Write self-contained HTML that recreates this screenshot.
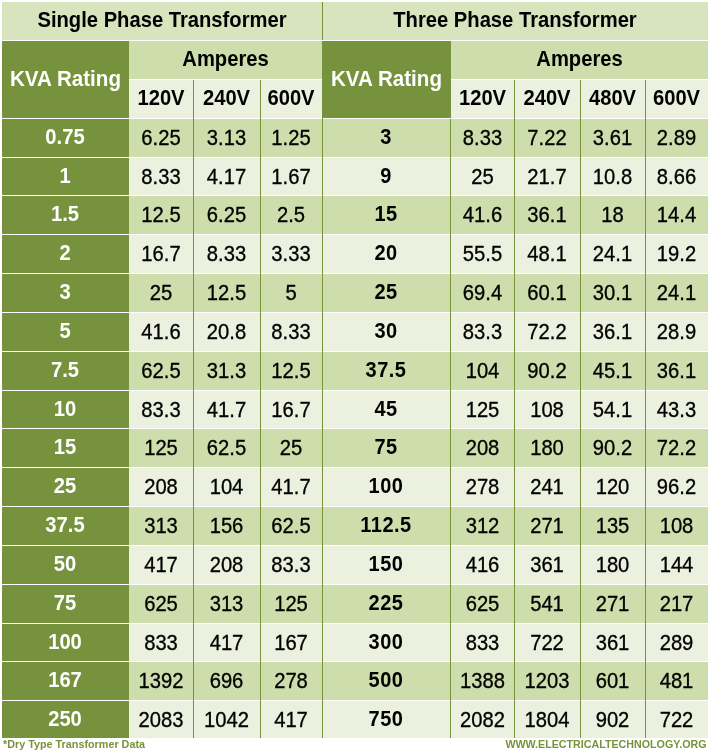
<!DOCTYPE html>
<html lang="en"><head><meta charset="utf-8"><title>Transformer KVA Rating Chart</title>
<style>
html,body{margin:0;padding:0;background:#fff}
body{width:710px;height:750px;position:relative;overflow:hidden;font-family:"Liberation Sans",Arial,sans-serif;color:#000}
.c{position:absolute;text-align:center;white-space:nowrap;font-size:20px;overflow:hidden}
.c span{display:inline-block;line-height:normal;vertical-align:middle;transform-origin:50% 79%}
.h{font-weight:bold;font-size:20.2px}
.h span{transform:translateY(-1.7px) scaleY(1.09)}
.d{font-size:20.2px;-webkit-text-stroke:0.3px #000}
.d span{transform:translateY(-1.6px) scaleY(1.08);transform-origin:50% 50%}
.w{color:#fff}
.k{font-weight:bold;font-size:20px}
.k span{transform:translateY(-2.3px) scaleY(1.1);transform-origin:50% 50%;letter-spacing:0.5px;margin-left:-1px}
.h.s span{transform:translateY(-0.7px) scaleY(1.09)}
.k.s span{transform:translateY(-1.3px) scaleY(1.1)}
.n span{margin-left:-1px}
.d.s span{transform:translateY(-0.6px) scaleY(1.08)}
.kv{font-size:20.6px}
.h.kv span{transform:translateY(-2.8px) scaleY(1.09)}
.v{position:absolute;width:1px;background:#77933c}
.f{position:absolute;font-weight:bold;font-size:10px;color:#77933c;white-space:nowrap;line-height:12px}
</style></head><body>
<div class="c h t" style="left:2px;top:2px;width:320px;height:38px;line-height:38px;background:#d7e4bd;"><span>Single Phase Transformer</span></div>
<div class="c h t" style="left:322px;top:2px;width:386px;height:38px;line-height:38px;background:#d7e4bd;"><span>Three Phase Transformer</span></div>
<div class="c h w kv" style="left:2px;top:41px;width:127px;height:77px;line-height:77px;background:#76923c;"><span>KVA Rating</span></div>
<div class="c h w kv" style="left:322px;top:41px;width:129px;height:77px;line-height:77px;background:#76923c;"><span>KVA Rating</span></div>
<div class="c h" style="left:129px;top:41px;width:193px;height:38px;line-height:38px;background:#cdddac;"><span>Amperes</span></div>
<div class="c h" style="left:451px;top:41px;width:257px;height:38px;line-height:38px;background:#cdddac;"><span>Amperes</span></div>
<div class="c h" style="left:129px;top:80px;width:64px;height:38px;line-height:38px;background:#ebf1de;"><span>120V</span></div>
<div class="c h" style="left:193px;top:80px;width:67px;height:38px;line-height:38px;background:#ebf1de;"><span>240V</span></div>
<div class="c h" style="left:260px;top:80px;width:62px;height:38px;line-height:38px;background:#ebf1de;"><span>600V</span></div>
<div class="c h" style="left:451px;top:80px;width:63px;height:38px;line-height:38px;background:#ebf1de;"><span>120V</span></div>
<div class="c h" style="left:514px;top:80px;width:66px;height:38px;line-height:38px;background:#ebf1de;"><span>240V</span></div>
<div class="c h" style="left:580px;top:80px;width:65px;height:38px;line-height:38px;background:#ebf1de;"><span>480V</span></div>
<div class="c h" style="left:645px;top:80px;width:63px;height:38px;line-height:38px;background:#ebf1de;"><span>600V</span></div>
<div class="c h w n" style="left:2px;top:119px;width:127px;height:38px;line-height:38px;background:#76923c;"><span>0.75</span></div>
<div class="c d" style="left:129px;top:119px;width:64px;height:38px;line-height:38px;background:#cdddac;"><span>6.25</span></div>
<div class="c d" style="left:193px;top:119px;width:67px;height:38px;line-height:38px;background:#cdddac;"><span>3.13</span></div>
<div class="c d" style="left:260px;top:119px;width:62px;height:38px;line-height:38px;background:#cdddac;"><span>1.25</span></div>
<div class="c k" style="left:322px;top:119px;width:129px;height:38px;line-height:38px;background:#cdddac;"><span>3</span></div>
<div class="c d" style="left:451px;top:119px;width:63px;height:38px;line-height:38px;background:#cdddac;"><span>8.33</span></div>
<div class="c d" style="left:514px;top:119px;width:66px;height:38px;line-height:38px;background:#cdddac;"><span>7.22</span></div>
<div class="c d" style="left:580px;top:119px;width:65px;height:38px;line-height:38px;background:#cdddac;"><span>3.61</span></div>
<div class="c d" style="left:645px;top:119px;width:63px;height:38px;line-height:38px;background:#cdddac;"><span>2.89</span></div>
<div class="c h w n s" style="left:2px;top:158px;width:127px;height:37px;line-height:37px;background:#76923c;"><span>1</span></div>
<div class="c d s" style="left:129px;top:158px;width:64px;height:37px;line-height:37px;background:#ebf1de;"><span>8.33</span></div>
<div class="c d s" style="left:193px;top:158px;width:67px;height:37px;line-height:37px;background:#ebf1de;"><span>4.17</span></div>
<div class="c d s" style="left:260px;top:158px;width:62px;height:37px;line-height:37px;background:#ebf1de;"><span>1.67</span></div>
<div class="c k s" style="left:322px;top:158px;width:129px;height:37px;line-height:37px;background:#ebf1de;"><span>9</span></div>
<div class="c d s" style="left:451px;top:158px;width:63px;height:37px;line-height:37px;background:#ebf1de;"><span>25</span></div>
<div class="c d s" style="left:514px;top:158px;width:66px;height:37px;line-height:37px;background:#ebf1de;"><span>21.7</span></div>
<div class="c d s" style="left:580px;top:158px;width:65px;height:37px;line-height:37px;background:#ebf1de;"><span>10.8</span></div>
<div class="c d s" style="left:645px;top:158px;width:63px;height:37px;line-height:37px;background:#ebf1de;"><span>8.66</span></div>
<div class="c h w n" style="left:2px;top:196px;width:127px;height:38px;line-height:38px;background:#76923c;"><span>1.5</span></div>
<div class="c d" style="left:129px;top:196px;width:64px;height:38px;line-height:38px;background:#cdddac;"><span>12.5</span></div>
<div class="c d" style="left:193px;top:196px;width:67px;height:38px;line-height:38px;background:#cdddac;"><span>6.25</span></div>
<div class="c d" style="left:260px;top:196px;width:62px;height:38px;line-height:38px;background:#cdddac;"><span>2.5</span></div>
<div class="c k" style="left:322px;top:196px;width:129px;height:38px;line-height:38px;background:#cdddac;"><span>15</span></div>
<div class="c d" style="left:451px;top:196px;width:63px;height:38px;line-height:38px;background:#cdddac;"><span>41.6</span></div>
<div class="c d" style="left:514px;top:196px;width:66px;height:38px;line-height:38px;background:#cdddac;"><span>36.1</span></div>
<div class="c d" style="left:580px;top:196px;width:65px;height:38px;line-height:38px;background:#cdddac;"><span>18</span></div>
<div class="c d" style="left:645px;top:196px;width:63px;height:38px;line-height:38px;background:#cdddac;"><span>14.4</span></div>
<div class="c h w n" style="left:2px;top:235px;width:127px;height:38px;line-height:38px;background:#76923c;"><span>2</span></div>
<div class="c d" style="left:129px;top:235px;width:64px;height:38px;line-height:38px;background:#ebf1de;"><span>16.7</span></div>
<div class="c d" style="left:193px;top:235px;width:67px;height:38px;line-height:38px;background:#ebf1de;"><span>8.33</span></div>
<div class="c d" style="left:260px;top:235px;width:62px;height:38px;line-height:38px;background:#ebf1de;"><span>3.33</span></div>
<div class="c k" style="left:322px;top:235px;width:129px;height:38px;line-height:38px;background:#ebf1de;"><span>20</span></div>
<div class="c d" style="left:451px;top:235px;width:63px;height:38px;line-height:38px;background:#ebf1de;"><span>55.5</span></div>
<div class="c d" style="left:514px;top:235px;width:66px;height:38px;line-height:38px;background:#ebf1de;"><span>48.1</span></div>
<div class="c d" style="left:580px;top:235px;width:65px;height:38px;line-height:38px;background:#ebf1de;"><span>24.1</span></div>
<div class="c d" style="left:645px;top:235px;width:63px;height:38px;line-height:38px;background:#ebf1de;"><span>19.2</span></div>
<div class="c h w n" style="left:2px;top:274px;width:127px;height:38px;line-height:38px;background:#76923c;"><span>3</span></div>
<div class="c d" style="left:129px;top:274px;width:64px;height:38px;line-height:38px;background:#cdddac;"><span>25</span></div>
<div class="c d" style="left:193px;top:274px;width:67px;height:38px;line-height:38px;background:#cdddac;"><span>12.5</span></div>
<div class="c d" style="left:260px;top:274px;width:62px;height:38px;line-height:38px;background:#cdddac;"><span>5</span></div>
<div class="c k" style="left:322px;top:274px;width:129px;height:38px;line-height:38px;background:#cdddac;"><span>25</span></div>
<div class="c d" style="left:451px;top:274px;width:63px;height:38px;line-height:38px;background:#cdddac;"><span>69.4</span></div>
<div class="c d" style="left:514px;top:274px;width:66px;height:38px;line-height:38px;background:#cdddac;"><span>60.1</span></div>
<div class="c d" style="left:580px;top:274px;width:65px;height:38px;line-height:38px;background:#cdddac;"><span>30.1</span></div>
<div class="c d" style="left:645px;top:274px;width:63px;height:38px;line-height:38px;background:#cdddac;"><span>24.1</span></div>
<div class="c h w n" style="left:2px;top:313px;width:127px;height:38px;line-height:38px;background:#76923c;"><span>5</span></div>
<div class="c d" style="left:129px;top:313px;width:64px;height:38px;line-height:38px;background:#ebf1de;"><span>41.6</span></div>
<div class="c d" style="left:193px;top:313px;width:67px;height:38px;line-height:38px;background:#ebf1de;"><span>20.8</span></div>
<div class="c d" style="left:260px;top:313px;width:62px;height:38px;line-height:38px;background:#ebf1de;"><span>8.33</span></div>
<div class="c k" style="left:322px;top:313px;width:129px;height:38px;line-height:38px;background:#ebf1de;"><span>30</span></div>
<div class="c d" style="left:451px;top:313px;width:63px;height:38px;line-height:38px;background:#ebf1de;"><span>83.3</span></div>
<div class="c d" style="left:514px;top:313px;width:66px;height:38px;line-height:38px;background:#ebf1de;"><span>72.2</span></div>
<div class="c d" style="left:580px;top:313px;width:65px;height:38px;line-height:38px;background:#ebf1de;"><span>36.1</span></div>
<div class="c d" style="left:645px;top:313px;width:63px;height:38px;line-height:38px;background:#ebf1de;"><span>28.9</span></div>
<div class="c h w n" style="left:2px;top:352px;width:127px;height:38px;line-height:38px;background:#76923c;"><span>7.5</span></div>
<div class="c d" style="left:129px;top:352px;width:64px;height:38px;line-height:38px;background:#cdddac;"><span>62.5</span></div>
<div class="c d" style="left:193px;top:352px;width:67px;height:38px;line-height:38px;background:#cdddac;"><span>31.3</span></div>
<div class="c d" style="left:260px;top:352px;width:62px;height:38px;line-height:38px;background:#cdddac;"><span>12.5</span></div>
<div class="c k" style="left:322px;top:352px;width:129px;height:38px;line-height:38px;background:#cdddac;"><span>37.5</span></div>
<div class="c d" style="left:451px;top:352px;width:63px;height:38px;line-height:38px;background:#cdddac;"><span>104</span></div>
<div class="c d" style="left:514px;top:352px;width:66px;height:38px;line-height:38px;background:#cdddac;"><span>90.2</span></div>
<div class="c d" style="left:580px;top:352px;width:65px;height:38px;line-height:38px;background:#cdddac;"><span>45.1</span></div>
<div class="c d" style="left:645px;top:352px;width:63px;height:38px;line-height:38px;background:#cdddac;"><span>36.1</span></div>
<div class="c h w n s" style="left:2px;top:391px;width:127px;height:37px;line-height:37px;background:#76923c;"><span>10</span></div>
<div class="c d s" style="left:129px;top:391px;width:64px;height:37px;line-height:37px;background:#ebf1de;"><span>83.3</span></div>
<div class="c d s" style="left:193px;top:391px;width:67px;height:37px;line-height:37px;background:#ebf1de;"><span>41.7</span></div>
<div class="c d s" style="left:260px;top:391px;width:62px;height:37px;line-height:37px;background:#ebf1de;"><span>16.7</span></div>
<div class="c k s" style="left:322px;top:391px;width:129px;height:37px;line-height:37px;background:#ebf1de;"><span>45</span></div>
<div class="c d s" style="left:451px;top:391px;width:63px;height:37px;line-height:37px;background:#ebf1de;"><span>125</span></div>
<div class="c d s" style="left:514px;top:391px;width:66px;height:37px;line-height:37px;background:#ebf1de;"><span>108</span></div>
<div class="c d s" style="left:580px;top:391px;width:65px;height:37px;line-height:37px;background:#ebf1de;"><span>54.1</span></div>
<div class="c d s" style="left:645px;top:391px;width:63px;height:37px;line-height:37px;background:#ebf1de;"><span>43.3</span></div>
<div class="c h w n" style="left:2px;top:429px;width:127px;height:38px;line-height:38px;background:#76923c;"><span>15</span></div>
<div class="c d" style="left:129px;top:429px;width:64px;height:38px;line-height:38px;background:#cdddac;"><span>125</span></div>
<div class="c d" style="left:193px;top:429px;width:67px;height:38px;line-height:38px;background:#cdddac;"><span>62.5</span></div>
<div class="c d" style="left:260px;top:429px;width:62px;height:38px;line-height:38px;background:#cdddac;"><span>25</span></div>
<div class="c k" style="left:322px;top:429px;width:129px;height:38px;line-height:38px;background:#cdddac;"><span>75</span></div>
<div class="c d" style="left:451px;top:429px;width:63px;height:38px;line-height:38px;background:#cdddac;"><span>208</span></div>
<div class="c d" style="left:514px;top:429px;width:66px;height:38px;line-height:38px;background:#cdddac;"><span>180</span></div>
<div class="c d" style="left:580px;top:429px;width:65px;height:38px;line-height:38px;background:#cdddac;"><span>90.2</span></div>
<div class="c d" style="left:645px;top:429px;width:63px;height:38px;line-height:38px;background:#cdddac;"><span>72.2</span></div>
<div class="c h w n" style="left:2px;top:468px;width:127px;height:38px;line-height:38px;background:#76923c;"><span>25</span></div>
<div class="c d" style="left:129px;top:468px;width:64px;height:38px;line-height:38px;background:#ebf1de;"><span>208</span></div>
<div class="c d" style="left:193px;top:468px;width:67px;height:38px;line-height:38px;background:#ebf1de;"><span>104</span></div>
<div class="c d" style="left:260px;top:468px;width:62px;height:38px;line-height:38px;background:#ebf1de;"><span>41.7</span></div>
<div class="c k" style="left:322px;top:468px;width:129px;height:38px;line-height:38px;background:#ebf1de;"><span>100</span></div>
<div class="c d" style="left:451px;top:468px;width:63px;height:38px;line-height:38px;background:#ebf1de;"><span>278</span></div>
<div class="c d" style="left:514px;top:468px;width:66px;height:38px;line-height:38px;background:#ebf1de;"><span>241</span></div>
<div class="c d" style="left:580px;top:468px;width:65px;height:38px;line-height:38px;background:#ebf1de;"><span>120</span></div>
<div class="c d" style="left:645px;top:468px;width:63px;height:38px;line-height:38px;background:#ebf1de;"><span>96.2</span></div>
<div class="c h w n" style="left:2px;top:507px;width:127px;height:38px;line-height:38px;background:#76923c;"><span>37.5</span></div>
<div class="c d" style="left:129px;top:507px;width:64px;height:38px;line-height:38px;background:#cdddac;"><span>313</span></div>
<div class="c d" style="left:193px;top:507px;width:67px;height:38px;line-height:38px;background:#cdddac;"><span>156</span></div>
<div class="c d" style="left:260px;top:507px;width:62px;height:38px;line-height:38px;background:#cdddac;"><span>62.5</span></div>
<div class="c k" style="left:322px;top:507px;width:129px;height:38px;line-height:38px;background:#cdddac;"><span>112.5</span></div>
<div class="c d" style="left:451px;top:507px;width:63px;height:38px;line-height:38px;background:#cdddac;"><span>312</span></div>
<div class="c d" style="left:514px;top:507px;width:66px;height:38px;line-height:38px;background:#cdddac;"><span>271</span></div>
<div class="c d" style="left:580px;top:507px;width:65px;height:38px;line-height:38px;background:#cdddac;"><span>135</span></div>
<div class="c d" style="left:645px;top:507px;width:63px;height:38px;line-height:38px;background:#cdddac;"><span>108</span></div>
<div class="c h w n" style="left:2px;top:546px;width:127px;height:38px;line-height:38px;background:#76923c;"><span>50</span></div>
<div class="c d" style="left:129px;top:546px;width:64px;height:38px;line-height:38px;background:#ebf1de;"><span>417</span></div>
<div class="c d" style="left:193px;top:546px;width:67px;height:38px;line-height:38px;background:#ebf1de;"><span>208</span></div>
<div class="c d" style="left:260px;top:546px;width:62px;height:38px;line-height:38px;background:#ebf1de;"><span>83.3</span></div>
<div class="c k" style="left:322px;top:546px;width:129px;height:38px;line-height:38px;background:#ebf1de;"><span>150</span></div>
<div class="c d" style="left:451px;top:546px;width:63px;height:38px;line-height:38px;background:#ebf1de;"><span>416</span></div>
<div class="c d" style="left:514px;top:546px;width:66px;height:38px;line-height:38px;background:#ebf1de;"><span>361</span></div>
<div class="c d" style="left:580px;top:546px;width:65px;height:38px;line-height:38px;background:#ebf1de;"><span>180</span></div>
<div class="c d" style="left:645px;top:546px;width:63px;height:38px;line-height:38px;background:#ebf1de;"><span>144</span></div>
<div class="c h w n" style="left:2px;top:585px;width:127px;height:38px;line-height:38px;background:#76923c;"><span>75</span></div>
<div class="c d" style="left:129px;top:585px;width:64px;height:38px;line-height:38px;background:#cdddac;"><span>625</span></div>
<div class="c d" style="left:193px;top:585px;width:67px;height:38px;line-height:38px;background:#cdddac;"><span>313</span></div>
<div class="c d" style="left:260px;top:585px;width:62px;height:38px;line-height:38px;background:#cdddac;"><span>125</span></div>
<div class="c k" style="left:322px;top:585px;width:129px;height:38px;line-height:38px;background:#cdddac;"><span>225</span></div>
<div class="c d" style="left:451px;top:585px;width:63px;height:38px;line-height:38px;background:#cdddac;"><span>625</span></div>
<div class="c d" style="left:514px;top:585px;width:66px;height:38px;line-height:38px;background:#cdddac;"><span>541</span></div>
<div class="c d" style="left:580px;top:585px;width:65px;height:38px;line-height:38px;background:#cdddac;"><span>271</span></div>
<div class="c d" style="left:645px;top:585px;width:63px;height:38px;line-height:38px;background:#cdddac;"><span>217</span></div>
<div class="c h w n s" style="left:2px;top:624px;width:127px;height:37px;line-height:37px;background:#76923c;"><span>100</span></div>
<div class="c d s" style="left:129px;top:624px;width:64px;height:37px;line-height:37px;background:#ebf1de;"><span>833</span></div>
<div class="c d s" style="left:193px;top:624px;width:67px;height:37px;line-height:37px;background:#ebf1de;"><span>417</span></div>
<div class="c d s" style="left:260px;top:624px;width:62px;height:37px;line-height:37px;background:#ebf1de;"><span>167</span></div>
<div class="c k s" style="left:322px;top:624px;width:129px;height:37px;line-height:37px;background:#ebf1de;"><span>300</span></div>
<div class="c d s" style="left:451px;top:624px;width:63px;height:37px;line-height:37px;background:#ebf1de;"><span>833</span></div>
<div class="c d s" style="left:514px;top:624px;width:66px;height:37px;line-height:37px;background:#ebf1de;"><span>722</span></div>
<div class="c d s" style="left:580px;top:624px;width:65px;height:37px;line-height:37px;background:#ebf1de;"><span>361</span></div>
<div class="c d s" style="left:645px;top:624px;width:63px;height:37px;line-height:37px;background:#ebf1de;"><span>289</span></div>
<div class="c h w n" style="left:2px;top:662px;width:127px;height:38px;line-height:38px;background:#76923c;"><span>167</span></div>
<div class="c d" style="left:129px;top:662px;width:64px;height:38px;line-height:38px;background:#cdddac;"><span>1392</span></div>
<div class="c d" style="left:193px;top:662px;width:67px;height:38px;line-height:38px;background:#cdddac;"><span>696</span></div>
<div class="c d" style="left:260px;top:662px;width:62px;height:38px;line-height:38px;background:#cdddac;"><span>278</span></div>
<div class="c k" style="left:322px;top:662px;width:129px;height:38px;line-height:38px;background:#cdddac;"><span>500</span></div>
<div class="c d" style="left:451px;top:662px;width:63px;height:38px;line-height:38px;background:#cdddac;"><span>1388</span></div>
<div class="c d" style="left:514px;top:662px;width:66px;height:38px;line-height:38px;background:#cdddac;"><span>1203</span></div>
<div class="c d" style="left:580px;top:662px;width:65px;height:38px;line-height:38px;background:#cdddac;"><span>601</span></div>
<div class="c d" style="left:645px;top:662px;width:63px;height:38px;line-height:38px;background:#cdddac;"><span>481</span></div>
<div class="c h w n s" style="left:2px;top:701px;width:127px;height:37px;line-height:37px;background:#76923c;"><span>250</span></div>
<div class="c d s" style="left:129px;top:701px;width:64px;height:37px;line-height:37px;background:#ebf1de;"><span>2083</span></div>
<div class="c d s" style="left:193px;top:701px;width:67px;height:37px;line-height:37px;background:#ebf1de;"><span>1042</span></div>
<div class="c d s" style="left:260px;top:701px;width:62px;height:37px;line-height:37px;background:#ebf1de;"><span>417</span></div>
<div class="c k s" style="left:322px;top:701px;width:129px;height:37px;line-height:37px;background:#ebf1de;"><span>750</span></div>
<div class="c d s" style="left:451px;top:701px;width:63px;height:37px;line-height:37px;background:#ebf1de;"><span>2082</span></div>
<div class="c d s" style="left:514px;top:701px;width:66px;height:37px;line-height:37px;background:#ebf1de;"><span>1804</span></div>
<div class="c d s" style="left:580px;top:701px;width:65px;height:37px;line-height:37px;background:#ebf1de;"><span>902</span></div>
<div class="c d s" style="left:645px;top:701px;width:63px;height:37px;line-height:37px;background:#ebf1de;"><span>722</span></div>
<div class="v" style="left:322px;top:2px;height:38px"></div>
<div class="v" style="left:193px;top:80px;height:658px"></div>
<div class="v" style="left:260px;top:80px;height:658px"></div>
<div class="v" style="left:514px;top:80px;height:658px"></div>
<div class="v" style="left:580px;top:80px;height:658px"></div>
<div class="v" style="left:645px;top:80px;height:658px"></div>
<div class="v" style="left:322px;top:118px;height:620px"></div>
<div class="v" style="left:450px;top:119px;height:619px"></div>
<div class="f" style="left:3px;top:738px;font-size:10.8px">*Dry Type Transformer Data</div>
<div class="f" style="right:3.5px;top:738px;font-size:10.7px">WWW.ELECTRICALTECHNOLOGY.ORG</div>
</body></html>
